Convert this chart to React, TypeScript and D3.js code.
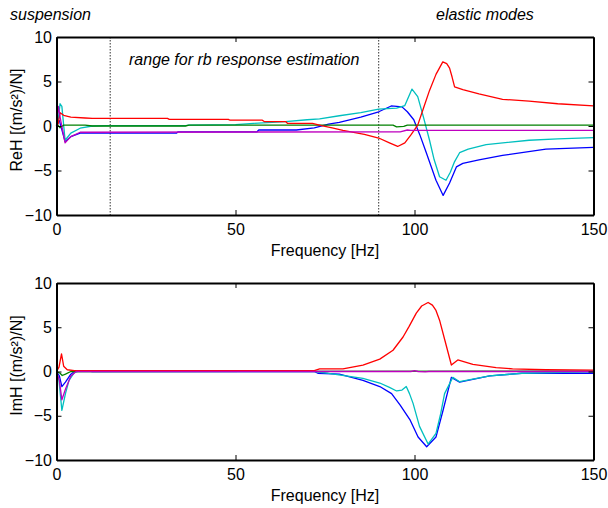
import React, { useRef, useEffect } from "react";
import * as d3 from "d3";

// series are [frequency Hz, value] pairs
const reRed = [[0,0],[0.5,0.3],[1,1.5],[2,1.2],[4,1.0],[8,0.9],[10,0.86],[31,0.86],[31.5,0.75],[48,0.75],[48.5,0.65],[57.5,0.65],[58,0.5],[64,0.5],[64.5,0.3],[71.5,0.3],[74,0.05],[77,-0.2],[80,-0.5],[86,-0.95],[90,-1.35],[93,-1.9],[95.3,-2.3],[97.3,-1.9],[99,-1.0],[100.9,0.1],[102.5,2.0],[104.2,4.0],[106,5.8],[107.9,7.2],[109,7.0],[109.8,6.5],[110.5,5.5],[111.2,4.4],[113.5,4.1],[118,3.6],[124.6,3.0],[132,2.8],[140,2.5],[150,2.25]];
const reCyan = [[0,0],[0.5,0.8],[1,2.5],[1.5,2.2],[2.4,-1.6],[4,-0.8],[6.6,-0.25],[10,0],[14,0.05],[36,0.05],[37,0.1],[50,0.15],[55,0.3],[64,0.5],[70,0.7],[73.5,0.8],[79,1.15],[85,1.5],[90,1.9],[95,2.0],[97.3,2.3],[99.3,4.15],[100.9,3.3],[102.5,1.0],[104.2,-1.6],[105.5,-3.8],[107,-5.7],[108.8,-6.1],[110,-5.2],[111.2,-4.0],[112.6,-3.0],[115,-2.6],[120,-2.1],[132,-1.6],[140,-1.45],[150,-1.3]];
const reBlue = [[0,0.5],[0.8,0.6],[2.4,-1.75],[4,-1.2],[6.6,-0.8],[10,-0.8],[33.5,-0.8],[34,-0.65],[56,-0.65],[56.5,-0.45],[67,-0.45],[72,-0.2],[76,0.2],[79,0.4],[85,1.0],[90,1.6],[93.5,2.25],[96.5,2.15],[98,1.6],[99.8,0.7],[101.5,-1.0],[103.3,-3.0],[106,-6.1],[108,-7.8],[109.8,-6.4],[111.7,-4.6],[113.5,-4.2],[118,-3.8],[124.6,-3.3],[136.7,-2.6],[150,-2.4]];
const reGreen = [[0,0.3],[1,-0.2],[2,0.1],[3,0.1],[8,0.1],[10,0],[36,0],[37,0.1],[94,0.1],[95,-0.1],[97,-0.05],[98,0.1],[150,0.1]];
const reMagenta = [[0,0],[0.5,2.2],[1,1.0],[2.4,-1.9],[4,-1.2],[6.6,-0.7],[96,-0.65],[98,-0.45],[99,-0.5],[150,-0.5]];

const imRed = [[0,0],[0.7,0.5],[1.4,2.0],[2,0.6],[3,0.2],[5,0.1],[72,0.1],[73.5,0.3],[80,0.3],[85.6,0.73],[90.3,1.4],[94,2.4],[96.8,3.9],[98.5,5.1],[100.5,6.6],[102,7.4],[103.8,7.8],[105,7.5],[106,6.9],[107,5.8],[108.5,3.5],[110.3,0.73],[112.1,1.3],[116.3,0.8],[122.8,0.43],[127.4,0.3],[136.7,0.2],[150,0.15]];
const imCyan = [[0,0],[0.7,-1.0],[1.5,-4.4],[2.5,-2.5],[3.5,-1.0],[5,-0.1],[6,0],[72,0],[76,-0.2],[85.6,-0.77],[90.3,-1.3],[93,-1.8],[95,-2.2],[96.5,-2.1],[97.7,-1.7],[98.6,-2.5],[99.6,-3.6],[101.4,-6.2],[103.8,-8.2],[106,-7.0],[107.3,-4.8],[108.4,-2.5],[110.7,-0.66],[112.6,-1.15],[121,-0.5],[130,-0.2],[141.5,-0.1],[150,-0.05]];
const imBlue = [[0,0],[0.8,-0.5],[1.5,-1.7],[2.5,-1.2],[4,-0.3],[5,0],[8,0.1],[10,0],[72,0],[73,-0.2],[79,-0.3],[85.6,-1.0],[90.3,-1.7],[93.6,-2.5],[96,-3.8],[98.8,-5.5],[101,-7.4],[103.4,-8.5],[106,-7.4],[108,-4.35],[110.3,-0.66],[112.6,-1.2],[121,-0.5],[130,-0.2],[150,-0.2]];
const imGreen = [[0,0],[1,-0.2],[1.6,-0.45],[2.5,-0.3],[4,0],[150,0.05]];
const imMagenta = [[0,0],[0.8,-1.0],[1.5,-3.2],[2.5,-2.0],[4,-0.5],[5.5,0],[99,0],[100,0.1],[101,0],[103,-0.05],[104,0],[150,0]];

const xTicks = [0, 50, 100, 150];
const yTicks = [-10, -5, 0, 5, 10];
const rangeLines = [15, 90];

const colors = { blue: "#0000ff", cyan: "#00bfbf", green: "#008000", red: "#ff0000", magenta: "#bf00bf" };

const FONT = "'Liberation Sans', Arial, sans-serif";

const App = () => {
  const svgRef = useRef<SVGSVGElement>(null);

  useEffect(() => {
    document.body.style.margin = "0";
    const svg = d3.select(svgRef.current);
    svg.selectAll("*").remove();

    const left = 56.5, right = 593.5;
    const x = d3.scaleLinear().domain([0, 150]).range([left, right]);

    const panel = (top: number, bottom: number, yLabel: string, series: [number[][], string][], dotted: boolean) => {
      const y = d3.scaleLinear().domain([-10, 10]).range([bottom, top]);
      const g = svg.append("g");

      if (dotted) {
        rangeLines.forEach(f => {
          g.append("line")
            .attr("x1", x(f)).attr("x2", x(f))
            .attr("y1", top).attr("y2", bottom)
            .attr("stroke", "#333").attr("stroke-width", 1)
            .attr("stroke-dasharray", "1.5,1.5");
        });
      }

      const line = d3.line<number[]>().x(d => x(d[0])).y(d => y(d[1]));
      series.forEach(([data, c]) => {
        g.append("path")
          .datum(data)
          .attr("fill", "none")
          .attr("stroke", c)
          .attr("stroke-width", 1.3)
          .attr("stroke-linejoin", "round")
          .attr("d", line);
      });

      const styleAxis = (a: any) => {
        a.select(".domain").attr("stroke", "#000").attr("stroke-width", 2);
        a.selectAll(".tick line").attr("stroke", "#000").attr("stroke-width", 1);
        a.selectAll("text").attr("font-family", FONT).attr("font-size", 16).attr("fill", "#000");
      };

      g.append("g").attr("transform", `translate(0,${bottom})`)
        .call(d3.axisBottom(x).tickValues(xTicks).tickSize(-5).tickSizeOuter(0).tickPadding(8.5))
        .call(styleAxis);
      g.append("g").attr("transform", `translate(0,${top})`)
        .call(d3.axisTop(x).tickValues(xTicks).tickSize(-5).tickSizeOuter(0).tickFormat(() => ""))
        .call(styleAxis);
      g.append("g").attr("transform", `translate(${left},0)`)
        .call(d3.axisLeft(y).tickValues(yTicks).tickSize(-5).tickSizeOuter(0).tickPadding(4.5))
        .call(styleAxis);
      g.append("g").attr("transform", `translate(${right},0)`)
        .call(d3.axisRight(y).tickValues(yTicks).tickSize(-5).tickSizeOuter(0).tickFormat(() => ""))
        .call(styleAxis);

      g.append("text")
        .attr("x", (left + right) / 2).attr("y", bottom + 40.5)
        .attr("text-anchor", "middle")
        .attr("font-family", FONT).attr("font-size", 16)
        .text("Frequency [Hz]");

      g.append("text")
        .attr("transform", `translate(22,${(top + bottom) / 2 - 6}) rotate(-90)`)
        .attr("text-anchor", "middle")
        .attr("font-family", FONT).attr("font-size", 16)
        .text(yLabel);
    };

    panel(37, 215, "ReH [(m/s²)/N]", [
      [reBlue, colors.blue], [reCyan, colors.cyan], [reGreen, colors.green],
      [reRed, colors.red], [reMagenta, colors.magenta],
    ], true);
    panel(283, 460, "ImH [(m/s²)/N]", [
      [imBlue, colors.blue], [imCyan, colors.cyan], [imGreen, colors.green],
      [imRed, colors.red], [imMagenta, colors.magenta],
    ], false);

    const note = (tx: number, ty: number, s: string) =>
      svg.append("text")
        .attr("x", tx).attr("y", ty)
        .attr("font-family", FONT).attr("font-size", 16).attr("font-style", "italic")
        .text(s);
    note(10, 20, "suspension");
    note(436, 20, "elastic modes");
    note(129, 65, "range for rb response estimation");
  }, []);

  return <svg ref={svgRef} width={608} height={508} style={{ display: "block", background: "#fff" }} />;
};

export default App;
